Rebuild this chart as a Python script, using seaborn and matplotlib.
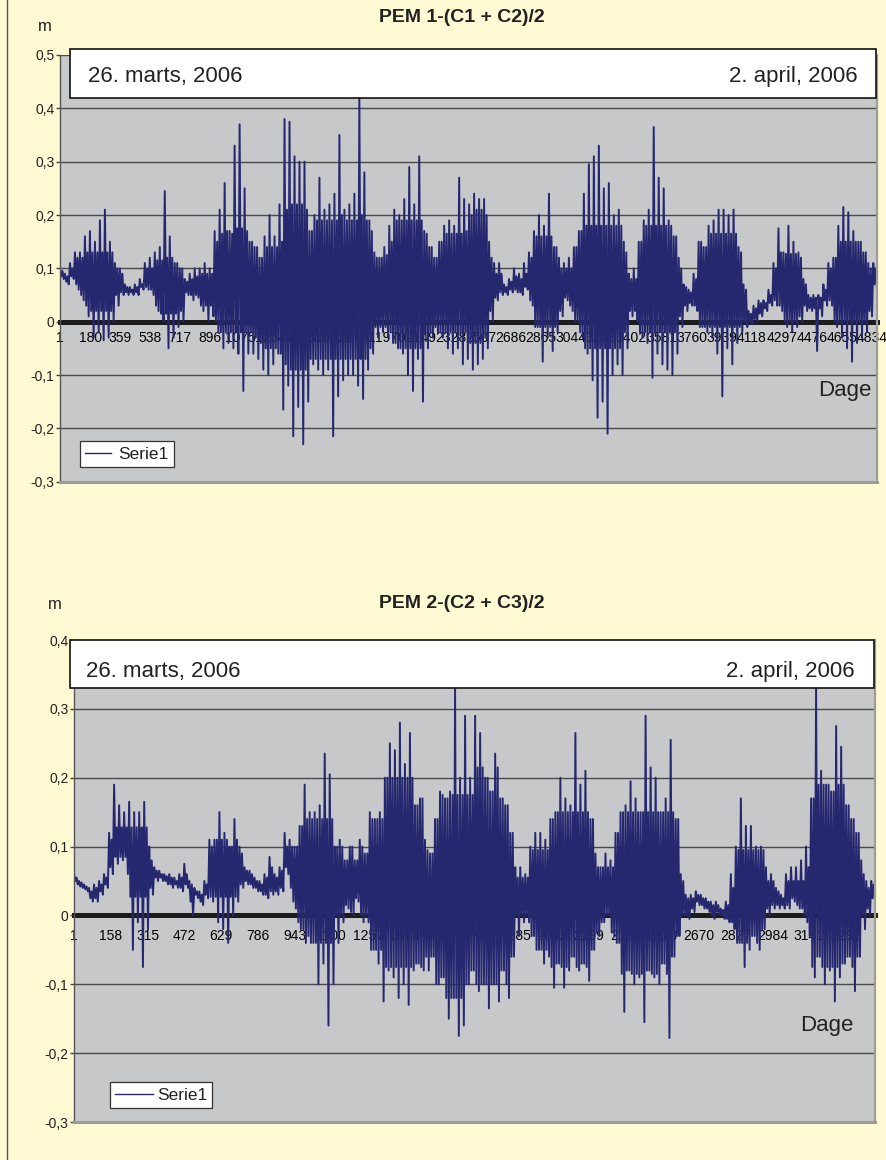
import numpy as np
import pandas as pd
import matplotlib
matplotlib.use("Agg")
import matplotlib.pyplot as plt
import seaborn as sns
from matplotlib.lines import Line2D
from matplotlib.patches import Rectangle

# ------------------------------------------------------------------ data
pem1_title = "PEM 1-(C1 + C2)/2"
pem2_title = "PEM 2-(C2 + C3)/2"
start_label = "26. marts, 2006"
end_label = "2. april, 2006"
x_axis_label = "Dage"
y_unit = "m"
series_name = "Serie1"

pem1_count = 4864   # number of observations (category axis length)
pem2_count = 3422

pem1_xticklabels = ["1", "180", "359", "538", "717", "896", "1075", "1254", "1433",
                    "1612", "1791", "1970", "2149", "2328", "2507", "2686", "2865",
                    "3044", "3223", "3402", "3581", "3760", "3939", "4118", "4297",
                    "4476", "4655", "4834"]
pem2_xticklabels = ["1", "158", "315", "472", "629", "786", "943", "1100", "1257",
                    "1414", "1571", "1728", "1885", "2042", "2199", "2356", "2513",
                    "2670", "2827", "2984", "3141", "3298"]

pem1_yticks = [-0.3, -0.2, -0.1, 0.0, 0.1, 0.2, 0.3, 0.4, 0.5]
pem1_yticklabels = ["-0,3", "-0,2", "-0,1", "0", "0,1", "0,2", "0,3", "0,4", "0,5"]
pem2_yticks = [-0.3, -0.2, -0.1, 0.0, 0.1, 0.2, 0.3, 0.4]
pem2_yticklabels = ["-0,3", "-0,2", "-0,1", "0", "0,1", "0,2", "0,3", "0,4"]

# Readings along the time axis (m), one entry per short stretch of the record:
# extreme high / extreme low reached, and the upper / lower edge of the dense core.
pem1_high = [0.10, 0.09, 0.11, 0.13, 0.13, 0.16, 0.17, 0.15, 0.19, 0.21,
             0.15, 0.11, 0.10, 0.07, 0.065, 0.07, 0.08, 0.11, 0.12, 0.13,
             0.14, 0.245, 0.16, 0.11, 0.10, 0.08, 0.09, 0.10, 0.10, 0.11,
             0.10, 0.17, 0.21, 0.26, 0.17, 0.33, 0.37, 0.25, 0.15, 0.14,
             0.12, 0.16, 0.20, 0.16, 0.22, 0.38, 0.375, 0.31, 0.30, 0.30,
             0.17, 0.20, 0.27, 0.21, 0.22, 0.24, 0.35, 0.21, 0.22, 0.24,
             0.42, 0.28, 0.19, 0.13, 0.12, 0.14, 0.18, 0.21, 0.20, 0.23,
             0.29, 0.22, 0.31, 0.17, 0.14, 0.12, 0.15, 0.18, 0.19, 0.18,
             0.27, 0.23, 0.22, 0.24, 0.23, 0.23, 0.15, 0.11, 0.11, 0.07,
             0.08, 0.10, 0.09, 0.11, 0.13, 0.17, 0.20, 0.18, 0.24, 0.14,
             0.12, 0.11, 0.12, 0.14, 0.17, 0.24, 0.295, 0.31, 0.33, 0.25,
             0.26, 0.20, 0.21, 0.15, 0.09, 0.10, 0.15, 0.19, 0.21, 0.365,
             0.27, 0.25, 0.19, 0.16, 0.12, 0.07, 0.06, 0.09, 0.15, 0.14,
             0.18, 0.19, 0.21, 0.21, 0.20, 0.21, 0.14, 0.07, 0.02, 0.03,
             0.04, 0.04, 0.06, 0.11, 0.175, 0.13, 0.18, 0.15, 0.13, 0.08,
             0.05, 0.05, 0.05, 0.07, 0.11, 0.12, 0.18, 0.215, 0.205, 0.17,
             0.15, 0.13, 0.11, 0.11]
pem1_low = [0.08, 0.07, 0.08, 0.06, 0.04, 0.01, -0.03, -0.02, -0.035, -0.03,
            0.0, 0.03, 0.05, 0.05, 0.05, 0.05, 0.06, 0.06, 0.05, 0.02,
            0.0, -0.05, -0.03, -0.01, 0.0, 0.05, 0.04, 0.045, 0.02, 0.0,
            0.01, -0.02, -0.05, -0.04, -0.05, -0.06, -0.13, -0.06, -0.06, -0.07,
            -0.09, -0.10, -0.08, -0.06, -0.165, -0.12, -0.215, -0.16, -0.23, -0.15,
            -0.08, -0.09, -0.10, -0.09, -0.215, -0.14, -0.11, -0.10, -0.10, -0.12,
            -0.145, -0.09, -0.06, -0.03, -0.02, -0.03, -0.04, -0.05, -0.06, -0.10,
            -0.13, -0.07, -0.15, -0.05, -0.03, -0.02, -0.03, -0.05, -0.06, -0.05,
            -0.08, -0.07, -0.09, -0.08, -0.07, -0.05, 0.0, 0.04, 0.05, 0.05,
            0.055, 0.055, 0.05, 0.06, 0.03, -0.01, -0.075, -0.03, -0.055, -0.02,
            0.01, 0.04, 0.02, 0.0, -0.03, -0.06, -0.11, -0.18, -0.15, -0.21,
            -0.10, -0.08, -0.10, -0.05, 0.01, 0.0, -0.03, -0.04, -0.105, -0.06,
            -0.08, -0.09, -0.10, -0.06, -0.01, 0.02, 0.03, 0.02, -0.01, -0.02,
            -0.03, -0.06, -0.14, -0.05, -0.08, -0.04, -0.02, -0.01, -0.005, 0.0,
            0.01, 0.02, 0.03, 0.03, 0.02, -0.01, -0.02, -0.01, 0.0, 0.02,
            0.02, -0.055, 0.01, 0.03, 0.03, -0.01, -0.03, -0.05, -0.075, -0.04,
            -0.03, -0.02, 0.01, 0.06]
pem1_core_high = [0.095, 0.085, 0.10, 0.12, 0.12, 0.13, 0.13, 0.13, 0.13, 0.13,
                  0.13, 0.10, 0.09, 0.065, 0.06, 0.065, 0.07, 0.10, 0.10, 0.115,
                  0.115, 0.12, 0.12, 0.11, 0.10, 0.075, 0.08, 0.085, 0.09, 0.09,
                  0.09, 0.15, 0.165, 0.17, 0.165, 0.175, 0.175, 0.17, 0.15, 0.14,
                  0.12, 0.14, 0.14, 0.14, 0.15, 0.21, 0.22, 0.22, 0.22, 0.21,
                  0.17, 0.19, 0.19, 0.19, 0.19, 0.19, 0.20, 0.19, 0.19, 0.19,
                  0.20, 0.19, 0.17, 0.12, 0.12, 0.125, 0.15, 0.19, 0.19, 0.19,
                  0.19, 0.19, 0.19, 0.165, 0.14, 0.12, 0.15, 0.165, 0.165, 0.165,
                  0.165, 0.17, 0.20, 0.21, 0.21, 0.20, 0.12, 0.09, 0.09, 0.065,
                  0.075, 0.085, 0.08, 0.09, 0.12, 0.16, 0.16, 0.16, 0.16, 0.14,
                  0.10, 0.10, 0.10, 0.14, 0.17, 0.18, 0.18, 0.18, 0.18, 0.18,
                  0.18, 0.18, 0.18, 0.13, 0.08, 0.08, 0.15, 0.18, 0.18, 0.18,
                  0.18, 0.18, 0.18, 0.16, 0.10, 0.065, 0.055, 0.08, 0.15, 0.14,
                  0.165, 0.165, 0.165, 0.165, 0.165, 0.165, 0.13, 0.06, 0.015, 0.025,
                  0.035, 0.035, 0.05, 0.10, 0.13, 0.127, 0.127, 0.127, 0.12, 0.07,
                  0.045, 0.045, 0.045, 0.06, 0.10, 0.12, 0.15, 0.15, 0.15, 0.15,
                  0.15, 0.13, 0.10, 0.10]
pem1_core_low = [0.085, 0.075, 0.085, 0.07, 0.05, 0.03, 0.02, 0.02, 0.02, 0.02,
                 0.02, 0.05, 0.055, 0.055, 0.055, 0.055, 0.065, 0.065, 0.06, 0.03,
                 0.015, 0.015, 0.015, 0.015, 0.02, 0.055, 0.05, 0.05, 0.03, 0.03,
                 0.03, 0.0, -0.02, -0.02, -0.02, -0.02, -0.02, -0.02, -0.02, -0.03,
                 -0.04, -0.05, -0.05, -0.05, -0.06, -0.08, -0.09, -0.09, -0.09, -0.09,
                 -0.07, -0.07, -0.07, -0.07, -0.07, -0.07, -0.07, -0.07, -0.07, -0.07,
                 -0.07, -0.07, -0.05, -0.01, -0.01, -0.01, -0.02, -0.04, -0.05, -0.05,
                 -0.05, -0.05, -0.05, -0.02, -0.02, -0.01, -0.02, -0.02, -0.02, -0.02,
                 -0.02, -0.02, -0.04, -0.04, -0.04, -0.03, 0.02, 0.045, 0.055, 0.055,
                 0.06, 0.06, 0.055, 0.065, 0.04, -0.01, -0.01, -0.01, -0.01, -0.01,
                 0.02, 0.045, 0.03, 0.0, -0.02, -0.05, -0.05, -0.05, -0.05, -0.05,
                 -0.05, -0.05, -0.05, -0.02, 0.02, 0.02, -0.02, -0.02, -0.02, -0.02,
                 -0.02, -0.02, -0.02, -0.02, 0.01, 0.03, 0.035, 0.03, -0.01, -0.01,
                 -0.01, -0.01, -0.01, -0.01, -0.01, -0.01, -0.01, 0.0, 0.0, 0.005,
                 0.015, 0.025, 0.035, 0.04, 0.03, 0.0, 0.0, 0.0, 0.01, 0.03,
                 0.025, 0.025, 0.025, 0.04, 0.04, 0.0, 0.0, 0.0, 0.0, 0.0,
                 0.0, 0.0, 0.02, 0.07]

pem2_high = [0.06, 0.05, 0.045, 0.04, 0.045, 0.05, 0.06, 0.12, 0.19, 0.16,
             0.15, 0.165, 0.15, 0.15, 0.165, 0.10, 0.07, 0.065, 0.06, 0.06,
             0.055, 0.06, 0.075, 0.05, 0.04, 0.035, 0.05, 0.11, 0.11, 0.15,
             0.12, 0.10, 0.14, 0.10, 0.07, 0.065, 0.055, 0.05, 0.06, 0.085,
             0.06, 0.07, 0.12, 0.11, 0.10, 0.13, 0.19, 0.15, 0.15, 0.16,
             0.235, 0.205, 0.10, 0.11, 0.08, 0.10, 0.08, 0.11, 0.09, 0.15,
             0.14, 0.15, 0.20, 0.25, 0.24, 0.28, 0.22, 0.265, 0.16, 0.17,
             0.11, 0.09, 0.14, 0.18, 0.17, 0.18, 0.33, 0.20, 0.29, 0.20,
             0.29, 0.265, 0.20, 0.18, 0.235, 0.17, 0.16, 0.12, 0.07, 0.07,
             0.06, 0.10, 0.12, 0.12, 0.11, 0.14, 0.15, 0.20, 0.17, 0.16,
             0.265, 0.19, 0.21, 0.14, 0.09, 0.07, 0.09, 0.08, 0.12, 0.15,
             0.16, 0.195, 0.17, 0.15, 0.29, 0.215, 0.20, 0.15, 0.17, 0.255,
             0.14, 0.06, 0.03, 0.03, 0.035, 0.03, 0.025, 0.02, 0.02, 0.01,
             0.02, 0.06, 0.10, 0.17, 0.13, 0.13, 0.10, 0.10, 0.07, 0.06,
             0.04, 0.03, 0.06, 0.07, 0.07, 0.08, 0.10, 0.17, 0.33, 0.21,
             0.19, 0.18, 0.275, 0.245, 0.16, 0.14, 0.12, 0.08, 0.05, 0.05]
pem2_low = [0.045, 0.04, 0.035, 0.02, 0.02, 0.03, 0.04, 0.06, 0.075, 0.08,
            0.06, -0.05, -0.01, -0.075, -0.02, 0.03, 0.05, 0.05, 0.045, 0.04,
            0.04, 0.035, 0.04, 0.0, 0.025, 0.015, 0.025, 0.02, -0.01, -0.02,
            -0.04, 0.0, 0.02, 0.04, 0.045, 0.04, 0.035, 0.03, 0.025, 0.03,
            0.03, 0.035, 0.06, 0.02, -0.01, -0.02, -0.03, -0.04, -0.10, -0.07,
            -0.16, -0.10, -0.04, -0.01, 0.01, 0.0, 0.02, -0.01, -0.01, -0.05,
            -0.07, -0.125, -0.08, -0.09, -0.12, -0.10, -0.13, -0.08, -0.07, -0.08,
            -0.08, -0.06, -0.10, -0.09, -0.15, -0.12, -0.175, -0.16, -0.10, -0.08,
            -0.11, -0.10, -0.135, -0.10, -0.125, -0.08, -0.12, -0.06, -0.03, -0.01,
            -0.01, -0.03, -0.05, -0.07, -0.06, -0.105, -0.07, -0.105, -0.08, -0.06,
            -0.08, -0.07, -0.095, -0.05, -0.03, -0.01, 0.0, -0.03, -0.04, -0.14,
            -0.08, -0.10, -0.09, -0.155, -0.08, -0.09, -0.10, -0.07, -0.178, -0.06,
            -0.03, 0.0, -0.005, 0.005, 0.015, 0.01, 0.005, -0.005, 0.0, -0.005,
            -0.01, -0.02, -0.04, -0.075, -0.05, -0.03, -0.05, -0.02, 0.0, 0.01,
            0.01, 0.01, 0.01, 0.02, 0.01, 0.0, -0.03, -0.09, -0.06, -0.10,
            -0.08, -0.125, -0.09, -0.07, -0.06, -0.11, -0.06, -0.02, 0.0, 0.02]
pem2_core_high = [0.055, 0.048, 0.042, 0.035, 0.04, 0.045, 0.055, 0.11, 0.128, 0.128,
                  0.128, 0.128, 0.128, 0.128, 0.128, 0.08, 0.065, 0.06, 0.057, 0.055,
                  0.05, 0.055, 0.06, 0.045, 0.035, 0.03, 0.045, 0.10, 0.11, 0.11,
                  0.11, 0.10, 0.11, 0.09, 0.065, 0.06, 0.05, 0.045, 0.055, 0.07,
                  0.055, 0.065, 0.10, 0.10, 0.10, 0.13, 0.14, 0.14, 0.14, 0.14,
                  0.14, 0.14, 0.10, 0.10, 0.08, 0.10, 0.08, 0.10, 0.09, 0.14,
                  0.14, 0.14, 0.20, 0.20, 0.20, 0.20, 0.20, 0.20, 0.16, 0.17,
                  0.095, 0.09, 0.14, 0.175, 0.17, 0.175, 0.175, 0.175, 0.175, 0.175,
                  0.215, 0.215, 0.20, 0.18, 0.215, 0.17, 0.16, 0.12, 0.055, 0.055,
                  0.055, 0.095, 0.095, 0.095, 0.095, 0.14, 0.15, 0.15, 0.15, 0.15,
                  0.15, 0.15, 0.15, 0.14, 0.07, 0.07, 0.07, 0.07, 0.12, 0.15,
                  0.15, 0.15, 0.15, 0.15, 0.15, 0.15, 0.15, 0.15, 0.15, 0.15,
                  0.14, 0.05, 0.025, 0.025, 0.03, 0.025, 0.02, 0.015, 0.015, 0.008,
                  0.015, 0.04, 0.095, 0.095, 0.095, 0.095, 0.095, 0.095, 0.05, 0.05,
                  0.035, 0.025, 0.05, 0.05, 0.05, 0.05, 0.07, 0.17, 0.19, 0.19,
                  0.19, 0.18, 0.19, 0.19, 0.16, 0.14, 0.12, 0.06, 0.04, 0.045]
pem2_core_low = [0.05, 0.042, 0.038, 0.025, 0.025, 0.035, 0.045, 0.07, 0.085, 0.085,
                 0.085, 0.027, 0.027, 0.027, 0.027, 0.04, 0.055, 0.055, 0.05, 0.045,
                 0.045, 0.04, 0.045, 0.02, 0.03, 0.02, 0.03, 0.027, 0.027, 0.027,
                 0.027, 0.027, 0.027, 0.045, 0.05, 0.045, 0.04, 0.035, 0.03, 0.035,
                 0.035, 0.04, 0.07, 0.04, 0.01, -0.02, -0.04, -0.04, -0.04, -0.04,
                 -0.04, -0.04, 0.0, 0.0, 0.015, 0.005, 0.025, 0.0, 0.0, -0.05,
                 -0.05, -0.05, -0.075, -0.075, -0.075, -0.075, -0.075, -0.075, -0.07, -0.075,
                 -0.06, -0.06, -0.10, -0.09, -0.12, -0.12, -0.12, -0.12, -0.10, -0.08,
                 -0.10, -0.10, -0.10, -0.10, -0.10, -0.08, -0.10, -0.06, 0.0, 0.0,
                 0.0, -0.03, -0.05, -0.05, -0.05, -0.075, -0.07, -0.075, -0.075, -0.06,
                 -0.075, -0.07, -0.075, -0.05, -0.025, -0.01, 0.0, -0.025, -0.04, -0.085,
                 -0.08, -0.085, -0.085, -0.085, -0.08, -0.085, -0.085, -0.07, -0.085, -0.06,
                 -0.03, 0.0, 0.0, 0.01, 0.02, 0.015, 0.01, 0.0, 0.005, 0.0,
                 -0.005, -0.01, -0.04, -0.04, -0.04, -0.03, -0.04, -0.02, 0.01, 0.015,
                 0.015, 0.015, 0.015, 0.025, 0.015, 0.01, -0.01, -0.075, -0.06, -0.075,
                 -0.075, -0.075, -0.075, -0.07, -0.06, -0.075, -0.06, 0.0, 0.01, 0.025]


def sequence(high, core_low, core_high, low):
    """Order the readings of each stretch as the trace runs through it."""
    out = []
    for h, cl, ch, l in zip(high, core_low, core_high, low):
        out.extend([h, cl, ch, l])
    return out


pem1_values = sequence(pem1_high, pem1_core_low, pem1_core_high, pem1_low)
pem2_values = sequence(pem2_high, pem2_core_low, pem2_core_high, pem2_low)
pem1_df = pd.DataFrame({"dag": np.linspace(1, pem1_count, len(pem1_values)), "m": pem1_values})
pem2_df = pd.DataFrame({"dag": np.linspace(1, pem2_count, len(pem2_values)), "m": pem2_values})

# ------------------------------------------------------------------ style
W, H = 886, 1160
BG = "#FFF9D4"
PLOT_BG = "#C7C8CA"
NAVY = "#25276F"
TXT = "#222222"
FONT = ["Liberation Sans", "DejaVu Sans"]

plt.rcParams["font.family"] = FONT


def fx(px):
    return px / W


def fy(py):
    return 1 - py / H


fig = plt.figure(figsize=(W / 100, H / 100), dpi=100, facecolor=BG)

# left page border
fig.add_artist(Line2D([fx(7.3), fx(7.3)], [0, 1], transform=fig.transFigure,
                      color="#555555", lw=1.0))


def make_chart(rect, df, count, xlabels, xfs, xpad, yticks, ylabels,
               title, title_y, m_xy, box, date_left, date_right, date_base,
               dage_xy, leg_anchor, leg_handlelen, leg_textpad):
    ax = fig.add_axes(rect)
    ax.set_facecolor(PLOT_BG)
    sns.lineplot(data=df, x="dag", y="m", ax=ax, color=NAVY, linewidth=1.4,
                 estimator=None, sort=False, errorbar=None, label=series_name)
    ax.set_xlim(1, count)
    ax.set_ylim(yticks[0], yticks[-1])
    ax.set_xlabel("")
    ax.set_ylabel("")
    ax.set_yticks(yticks)
    ax.set_yticklabels(ylabels, fontsize=10, color=TXT)
    ax.set_xticks([int(v) for v in xlabels])
    ax.set_xticklabels(xlabels, fontsize=xfs, color=TXT)

    ax.spines["bottom"].set_position(("data", 0))
    ax.spines["bottom"].set_linewidth(3.6)
    ax.spines["bottom"].set_color("#1c1c1c")
    ax.spines["bottom"].set_zorder(1.5)
    ax.spines["top"].set_visible(False)
    ax.spines["left"].set_color("#555555")
    ax.spines["left"].set_linewidth(1.0)
    ax.spines["right"].set_color("#9c9c9c")
    ax.spines["right"].set_linewidth(1.6)
    ax.axhline(yticks[0], color="#9c9c9c", lw=2.2, zorder=3, clip_on=False)

    ax.grid(axis="y", color="#4a4a4a", lw=1.0)
    ax.grid(axis="x", visible=False)
    ax.set_axisbelow(True)
    ax.tick_params(axis="x", length=0, pad=xpad)
    ax.tick_params(axis="y", direction="out", length=3, width=1,
                   color="#444444", pad=1)

    leg = ax.legend(loc="lower left", bbox_to_anchor=leg_anchor, borderaxespad=0,
                    fontsize=12.5, frameon=True, fancybox=False, framealpha=1,
                    edgecolor="#333333", borderpad=0.3, handlelength=leg_handlelen,
                    handletextpad=leg_textpad)
    leg.get_frame().set_linewidth(0.9)
    for t in leg.get_texts():
        t.set_color(TXT)
    for ln in leg.get_lines():
        ln.set_linewidth(1.0)

    # title and unit
    fig.text(fx(462), fy(title_y), title, ha="center",
             va="center", fontsize=14, fontweight="bold", color=TXT)
    fig.text(fx(m_xy[0]), fy(m_xy[1]), y_unit, ha="center", va="baseline",
             fontsize=12, color=TXT)

    # date box
    x0, y0, x1, y1 = box
    fig.add_artist(Rectangle((fx(x0), fy(y1)), (x1 - x0) / W, (y1 - y0) / H,
                             transform=fig.transFigure, facecolor="white",
                             edgecolor="#111111", lw=1.2, zorder=5))
    fig.text(fx(date_left), fy(date_base), start_label, ha="left", va="baseline",
             fontsize=16, color=TXT, zorder=6)
    fig.text(fx(date_right), fy(date_base), end_label, ha="right", va="baseline",
             fontsize=16, color=TXT, zorder=6)

    fig.text(fx(dage_xy[0]), fy(dage_xy[1]), x_axis_label, ha="right",
             va="baseline", fontsize=16, color=TXT, zorder=6)
    return ax


make_chart([fx(60), fy(481.7), (877 - 60) / W, (481.7 - 55) / H],
           pem1_df, pem1_count, pem1_xticklabels, 8.5, 7,
           pem1_yticks, pem1_yticklabels,
           pem1_title, 17, (45, 30.7), (70, 49, 876, 98), 88, 858, 81.7,
           (872, 395.7), (0.0245, 0.0345), 1.5, 0.4)

make_chart([fx(74), fy(1122), (875 - 74) / W, (1122 - 640) / H],
           pem2_df, pem2_count, pem2_xticklabels, 10, 9.5,
           pem2_yticks, pem2_yticklabels,
           pem2_title, 604, (55, 609.3), (70, 640, 874, 688), 86, 855, 676.7,
           (853, 1030.7), (0.045, 0.029), 2.2, 0.2)

fig.savefig("out.png", dpi=100, facecolor=BG)
